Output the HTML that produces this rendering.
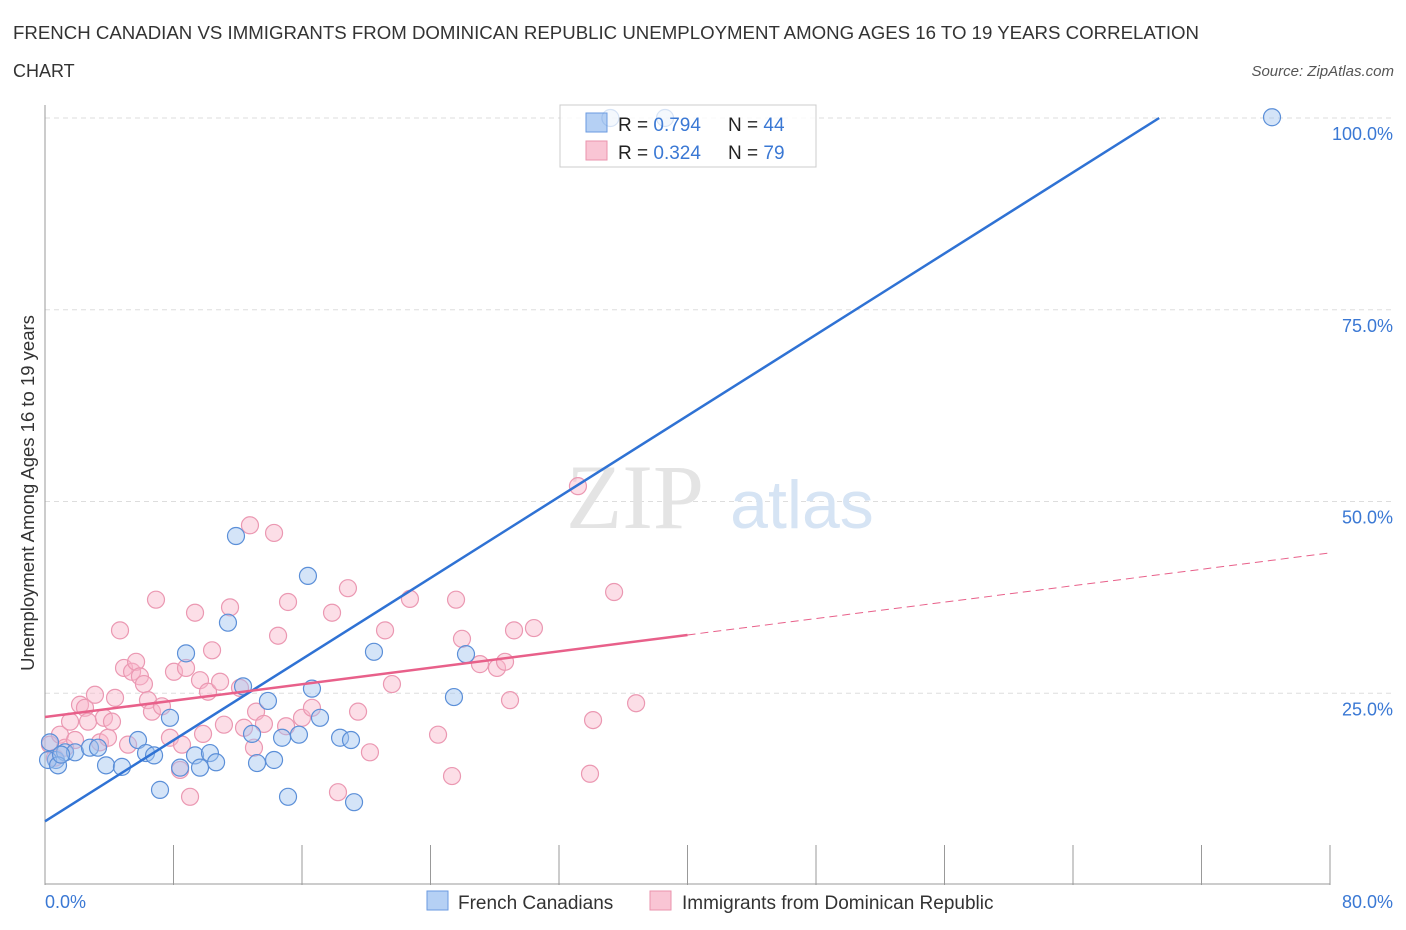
<!DOCTYPE html>
<html><head><meta charset="utf-8"><style>
body{margin:0;background:#fff;font-family:"Liberation Sans",sans-serif;}
svg{display:block}
</style></head><body>
<svg id="chart" width="1406" height="930" xmlns="http://www.w3.org/2000/svg">
<text x="13" y="39" font-size="18" textLength="1186" lengthAdjust="spacingAndGlyphs" fill="#333">FRENCH CANADIAN VS IMMIGRANTS FROM DOMINICAN REPUBLIC UNEMPLOYMENT AMONG AGES 16 TO 19 YEARS CORRELATION</text>
<text x="13" y="77" font-size="18" fill="#333">CHART</text>
<text x="1394" y="76" font-size="15" fill="#555" font-style="italic" text-anchor="end">Source: ZipAtlas.com</text>
<g id="grid"></g>
<g>
<text x="635" y="528" font-family="Liberation Serif,serif" font-size="92" fill="#e4e4e4" text-anchor="middle">ZIP</text>
<text x="802" y="528" font-size="68" fill="#d6e4f4" text-anchor="middle">atlas</text>
</g>
<g id="axes"></g>
<g>
<rect x="560" y="105" width="256" height="62" fill="#fff" fill-opacity="0.85" stroke="#ccc"/>
<rect x="586" y="113" width="21" height="19" fill="#b5d0f4" stroke="#6a9ae0"/>
<rect x="586" y="141" width="21" height="19" fill="#f9c5d4" stroke="#ea93ad"/>
<text x="618" y="131" font-size="19" fill="#222">R = <tspan fill="#3a78d4">0.794</tspan></text>
<text x="728" y="131" font-size="19" fill="#222">N = <tspan fill="#3a78d4">44</tspan></text>
<text x="618" y="159" font-size="19" fill="#222">R = <tspan fill="#3a78d4">0.324</tspan></text>
<text x="728" y="159" font-size="19" fill="#222">N = <tspan fill="#3a78d4">79</tspan></text>
</g>
<g id="points"></g>
<g id="lines"></g>
<text transform="translate(34,493) rotate(-90)" font-size="18.5" fill="#333" text-anchor="middle">Unemployment Among Ages 16 to 19 years</text>
<text x="45" y="908" font-size="18" fill="#3a78d4">0.0%</text>
<text x="1393" y="908" font-size="18" fill="#3a78d4" text-anchor="end">80.0%</text>
<g>
<rect x="427" y="891" width="21" height="19" fill="#b5d0f4" stroke="#6a9ae0"/>
<text x="458" y="909" font-size="19" fill="#333">French Canadians</text>
<rect x="650" y="891" width="21" height="19" fill="#f9c5d4" stroke="#ea93ad"/>
<text x="682" y="909" font-size="19" fill="#333">Immigrants from Dominican Republic</text>
</g>
</svg>
<script>
const yTicks=[25,50,75,100];
const yTickLabels=["25.0%","50.0%","75.0%","100.0%"];
const xTicks=[0,8,16,24,32,40,48,56,64,72,80];
const blueX=[0.31,0.68,1.25,1.87,2.80,3.30,3.80,4.79,5.79,6.29,6.79,7.16,7.78,8.41,8.78,9.34,9.65,10.27,10.65,11.39,11.89,12.33,12.89,13.20,13.88,14.26,14.76,15.13,15.81,16.37,16.62,17.12,18.37,19.05,19.24,20.48,25.46,26.21,76.39,0.19,0.81,35.2,38.6,1.0];
const blueY=[18.6,16.3,17.3,17.3,17.9,17.9,15.6,15.4,18.9,17.2,16.9,12.4,21.8,15.3,30.2,16.9,15.3,17.2,16.0,34.2,45.5,25.9,19.7,15.9,24.0,16.3,19.2,11.5,19.6,40.3,25.6,21.8,19.2,18.9,10.8,30.4,24.5,30.1,100.1,16.3,15.6,100,100,17.0];
const pinkX=[0.31,0.62,0.93,1.25,1.56,1.87,2.18,2.49,2.68,3.11,3.42,3.67,3.92,4.17,4.36,4.67,4.92,5.17,5.42,5.67,5.91,6.16,6.41,6.66,6.91,7.28,7.78,8.03,8.41,8.53,8.78,9.03,9.34,9.65,9.84,10.15,10.40,10.90,11.14,11.52,12.14,12.39,12.76,13.01,13.14,13.63,14.26,14.51,15.01,15.13,16.00,16.62,17.87,18.24,18.86,19.49,20.23,21.17,21.60,22.72,24.47,25.34,25.59,25.96,27.08,28.14,28.64,28.95,29.20,30.44,33.18,34.12,33.93,35.43,36.80];
const pinkY=[18.3,16.6,19.6,17.9,21.3,18.9,23.5,23.1,21.3,24.8,18.6,21.8,19.2,21.3,24.4,33.2,28.3,18.3,27.8,29.1,27.2,26.2,24.1,22.6,37.2,23.3,19.2,27.8,15.0,18.3,28.3,11.5,35.5,26.7,19.7,25.2,30.6,26.5,20.9,36.2,25.7,20.5,46.9,17.9,22.6,21.0,45.9,32.5,20.7,36.9,21.8,23.1,35.5,12.1,38.7,22.6,17.3,33.2,26.2,37.3,19.6,14.2,37.2,32.1,28.8,28.3,29.1,24.1,33.2,33.5,52.0,21.5,14.5,38.2,23.7];
const blueLine=[8.3,1.322]; // intercept, slope
const pinkLine=[21.9,0.2675];
const NS="http://www.w3.org/2000/svg";
function sx(v){return 45+v/80*1285;}
function sy(v){return 885-v/100*767;}
function mk(t,a,p){const e=document.createElementNS(NS,t);for(const k in a)e.setAttribute(k,a[k]);p.appendChild(e);return e;}
const grid=document.getElementById('grid');
yTicks.forEach((t,i)=>{
  const l=mk('line',{x1:45,x2:1393,y1:sy(t),y2:sy(t),stroke:'#ddd','stroke-dasharray':'5,4'},grid);
  
  
  const tx=mk('text',{x:1393,y:sy(t)+22,'font-size':18,fill:'#3a78d4','text-anchor':'end'},grid);
  tx.textContent=yTickLabels[i];
  
  
});
const axes=document.getElementById('axes');
const ya=mk('line',{x1:45,x2:45,y1:105,y2:885,stroke:'#999'},axes);


const xa=mk('line',{x1:45,x2:1330,y1:884,y2:884,stroke:'#999'},axes);


xTicks.forEach(t=>{
  const l=mk('line',{x1:sx(t),x2:sx(t),y1:845,y2:885,stroke:'#999'},axes);
  
  
});
const pts=document.getElementById('points');
pinkX.forEach((x,i)=>{
  const c=mk('circle',{cx:sx(x),cy:sy(pinkY[i]),r:8.5,fill:'rgba(248,182,202,0.45)',stroke:'#eb98b2','stroke-width':1.2},pts);
  
  
});
blueX.forEach((x,i)=>{
  const c=mk('circle',{cx:sx(x),cy:sy(blueY[i]),r:8.5,fill:'rgba(160,196,240,0.45)',stroke:'#5b8fd8','stroke-width':1.2,opacity:(blueY[i]>=100&&x<60)?0.25:1},pts);
  
  
});
const lines=document.getElementById('lines');
const bx2=(100-blueLine[0])/blueLine[1];
const bl=mk('line',{x1:sx(0),y1:sy(blueLine[0]),x2:sx(bx2),y2:sy(100),stroke:'#2f72d4','stroke-width':2.5},lines);


const pl=mk('line',{x1:sx(0),y1:sy(pinkLine[0]),x2:sx(40),y2:sy(pinkLine[0]+40*pinkLine[1]),stroke:'#e8608a','stroke-width':2.5},lines);


const pd=mk('line',{x1:sx(40),y1:sy(pinkLine[0]+40*pinkLine[1]),x2:sx(80),y2:sy(pinkLine[0]+80*pinkLine[1]),stroke:'#e8608a','stroke-width':1,'stroke-dasharray':'8,5'},lines);


</script>
</body></html>
